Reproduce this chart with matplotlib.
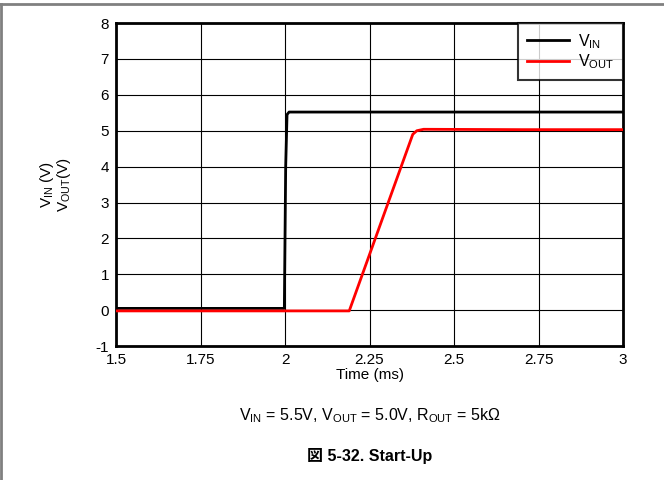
import matplotlib
matplotlib.use('Agg')
import matplotlib.pyplot as plt
from matplotlib.lines import Line2D

plt.rcParams['font.family'] = ['Liberation Sans', 'Noto Sans CJK JP']
plt.rcParams['mathtext.fontset'] = 'custom'
plt.rcParams['mathtext.rm'] = 'Liberation Sans'
plt.rcParams['mathtext.it'] = 'Liberation Sans'
plt.rcParams['axes.unicode_minus'] = False

# traces (time in ms, volts)
vin_t = [1.5, 1.75, 1.998, 2.002, 2.006, 2.012, 2.5, 3.0]
vin_v = [0.05, 0.05, 0.05, 4.0, 5.45, 5.52, 5.52, 5.52]
vout_t = [1.5, 1.75, 2.19, 2.378, 2.39, 2.41, 2.7, 3.0]
vout_v = [-0.02, -0.02, -0.02, 4.90, 5.00, 5.04, 5.03, 5.03]

xticks = [1.5, 1.75, 2, 2.25, 2.5, 2.75, 3]
xtick_labels = ['1.5', '1.75', '2', '2.25', '2.5', '2.75', '3']
yticks = list(range(-1, 9))

fig = plt.figure(figsize=(6.64, 4.80), dpi=100)
ax = fig.add_axes([0.1747, 0.279, 0.7636, 0.673])

ax.plot(vin_t, vin_v, color='black', lw=2, label=r'V$_{\mathrm{IN}}$', zorder=3)
ax.plot(vout_t, vout_v, color='#ff0000', lw=2, label=r'V$_{\mathrm{OUT}}$', zorder=3)

ax.set_xlim(1.5, 3)
ax.set_ylim(-1, 8)
ax.set_xticks(xticks)
ax.set_xticklabels(xtick_labels)
ax.set_yticks(yticks)
ax.grid(True, color='black', lw=0.8)
ax.tick_params(length=0, labelsize=11, pad=5)
for s in ax.spines.values():
    s.set_linewidth(2)

ax.set_xlabel('Time (ms)', fontsize=11, labelpad=1)
ax.set_ylabel(r'V$_{\mathrm{IN}}$ (V)' + '\n' + r'V$_{\mathrm{OUT}}$(V)', fontsize=11, labelpad=16,
              linespacing=0.95)

leg = ax.legend(loc='upper right', fontsize=11.5, frameon=True, fancybox=False,
                borderaxespad=0, handlelength=2.6, borderpad=0.55, labelspacing=0.1,
                handletextpad=0.6)
leg.get_frame().set_edgecolor('black')
leg.get_frame().set_linewidth(1.5)

fig.text(0.557, 0.134, r'V$_{\mathrm{IN}}$ = 5.5V, V$_{\mathrm{OUT}}$ = 5.0V, R$_{\mathrm{OUT}}$ = 5k$\Omega$',
         ha='center', va='center', fontsize=11.5)
fig.text(0.557, 0.051, '図 5-32. Start-Up', ha='center', va='center', fontsize=11.5,
         fontweight='bold')

# page frame
fig.add_artist(Line2D([0, 1], [0.991, 0.991], transform=fig.transFigure, color='#808080', lw=2))
fig.add_artist(Line2D([0.001, 0.001], [0, 0.991], transform=fig.transFigure, color='#808080', lw=2))

fig.savefig('out.png', dpi=100)
